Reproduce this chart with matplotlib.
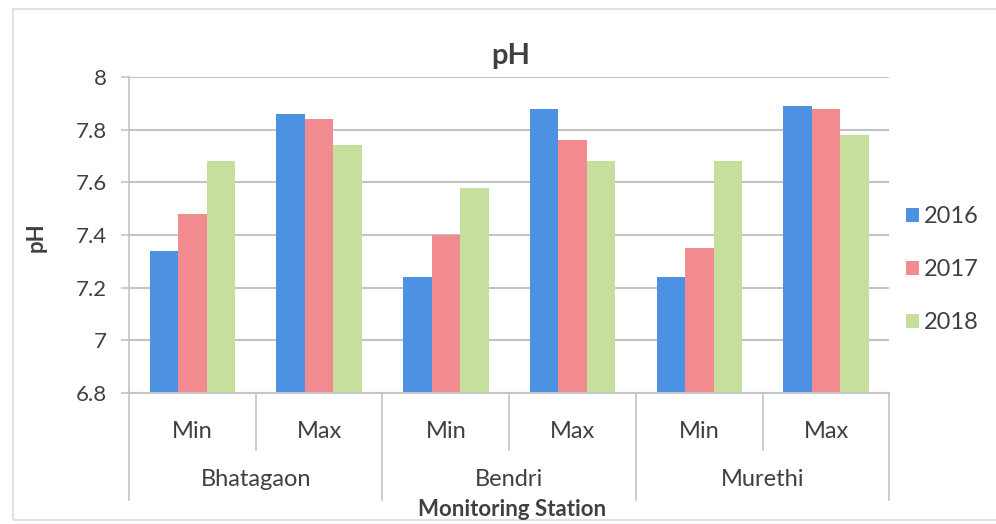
# plot.py
# pH min/max per monitoring station, grouped by year

import matplotlib.pyplot as plt
from matplotlib.lines import Line2D
from matplotlib.patches import Rectangle

stations = ['Bhatagaon', 'Bendri', 'Murethi']
levels = ['Min', 'Max']
years = ['2016', '2017', '2018']

# values in order: Bhatagaon Min, Bhatagaon Max, Bendri Min, Bendri Max, Murethi Min, Murethi Max
ph_2016 = [7.34, 7.86, 7.24, 7.88, 7.24, 7.89]
ph_2017 = [7.48, 7.84, 7.40, 7.76, 7.35, 7.88]
ph_2018 = [7.68, 7.74, 7.58, 7.68, 7.68, 7.78]

colors = ['#4d91e2', '#f28b8f', '#c6df9c']
grid_c = '#c4c4c4'
text_c = '#404040'

plt.rcParams['font.family'] = ['Lato', 'DejaVu Sans']

fig = plt.figure(figsize=(9.96, 5.24), dpi=100)
ax = fig.add_axes([0.1295, 0.25, 0.7635, 0.603])

# light chart frame
fig.patches.append(Rectangle((0.013, 0.008), 1.2, 0.975, transform=fig.transFigure,
                             fill=False, edgecolor='#e2e2e2', lw=1.5))

x = list(range(len(stations) * len(levels)))
w = 0.225
for i, (vals, yr) in enumerate(zip([ph_2016, ph_2017, ph_2018], years)):
    ax.bar([p + (i - 1) * w for p in x], vals, width=w, color=colors[i], label=yr,
           zorder=3)

ax.set_ylim(6.8, 8)
ax.set_xlim(-0.5, len(x) - 0.5)
ax.set_yticks([6.8, 7, 7.2, 7.4, 7.6, 7.8, 8])
ax.set_yticklabels(['6.8', '7', '7.2', '7.4', '7.6', '7.8', '8'])
ax.yaxis.grid(True, color=grid_c, lw=1.5, zorder=0)
for s in ['top', 'right', 'bottom']:
    ax.spines[s].set_visible(False)
ax.spines['left'].set_color(grid_c)
ax.spines['left'].set_linewidth(1.2)
ax.tick_params(axis='y', length=6, color=grid_c, width=1.2, labelsize=16,
               labelcolor=text_c, pad=10)

# inner (Min/Max) labels
ax.set_xticks(x)
ax.set_xticklabels(levels * len(stations))
ax.tick_params(axis='x', length=0, labelsize=17, labelcolor=text_c, pad=20)

trans = ax.get_xaxis_transform()
# baseline
ax.add_line(Line2D([-0.5, len(x) - 0.5], [0, 0], transform=trans, color=grid_c,
                   lw=1.5, clip_on=False, zorder=4))
# dividers between categories
for k in range(len(x) + 1):
    b = k - 0.5
    y_end = -0.34 if k % 2 == 0 else -0.18
    ax.add_line(Line2D([b, b], [0, y_end], transform=trans, color=grid_c,
                       lw=1.2, clip_on=False))

# station names
for j, st in enumerate(stations):
    ax.text(2 * j + 0.5, -0.275, st, transform=trans, ha='center', va='center',
            fontsize=17, color=text_c)

fig.text(0.514, 0.027, 'Monitoring Station', ha='center', va='center',
         fontsize=16, fontweight='bold', color=text_c)
fig.text(0.036, 0.548, 'pH', rotation=90, ha='center', va='center',
         fontsize=16, fontweight='bold', color=text_c)
fig.text(0.513, 0.893, 'pH', ha='center', va='center', fontsize=21,
         fontweight='bold', color=text_c)

fig.legend(loc='center left', bbox_to_anchor=(0.888, 0.485), frameon=False,
           fontsize=17, labelcolor=text_c, handlelength=0.55, handleheight=0.55,
           handletextpad=0.2, labelspacing=1.35)

fig.savefig('out.png', dpi=100)
